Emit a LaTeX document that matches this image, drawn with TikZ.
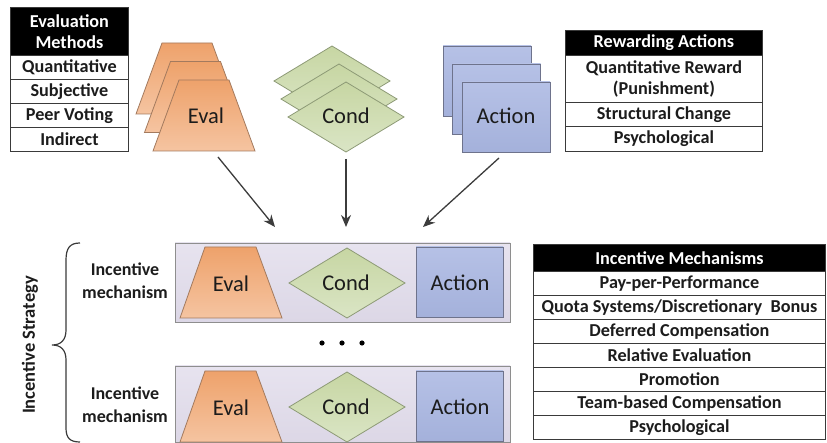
\documentclass[tikz,border=0pt]{standalone}
\usepackage{fontspec}
\setmainfont{Carlito}
\usetikzlibrary{arrows.meta}

\definecolor{tblline}{HTML}{3A3A3A}
\definecolor{evalTop}{HTML}{EEA26B}
\definecolor{evalBot}{HTML}{F5C4A1}
\definecolor{evalLine}{HTML}{A37A5E}
\definecolor{condTop}{HTML}{C7D6A3}
\definecolor{condBot}{HTML}{DAE5C5}
\definecolor{condLine}{HTML}{8D9A76}
\definecolor{actTop}{HTML}{B6C1E6}
\definecolor{actBot}{HTML}{A4B1DB}
\definecolor{actLine}{HTML}{6E738C}
\definecolor{mechTop}{HTML}{E7E3EF}
\definecolor{mechBot}{HTML}{DCD7E6}
\definecolor{mechLine}{HTML}{8E8E8E}
\definecolor{arrowCol}{HTML}{3C3C3C}
\definecolor{txt}{HTML}{1C1C1C}

\newcommand{\tblfont}{\bfseries\fontsize{18.2}{21.5}\selectfont}
\newcommand{\shapefont}{\fontsize{22.5}{26}\selectfont}
\newcommand{\lblfont}{\bfseries\fontsize{18}{23}\selectfont}

\begin{document}
\begin{tikzpicture}[x=1pt,y=-1pt,
  hdr/.style={draw=tblline, line width=0.9pt, fill=black, text=white, font=\tblfont,
    inner sep=0pt, align=center, anchor=north west},
  cell/.style={draw=tblline, line width=0.9pt, fill=white, text=txt, font=\tblfont,
    inner sep=0pt, align=center, anchor=north west},
  evalshape/.style={draw=evalLine, line width=0.8pt, top color=evalTop, bottom color=evalBot},
  condshape/.style={draw=condLine, line width=0.8pt, top color=condTop, bottom color=condBot},
  actshape/.style={draw=actLine, line width=0.8pt, top color=actTop, bottom color=actBot},
  mechbox/.style={draw=mechLine, line width=0.9pt, top color=mechTop, bottom color=mechBot},
  shapetext/.style={font=\shapefont, text=txt, inner sep=0pt},
  mechlabel/.style={font=\lblfont, text=txt, align=center, inner sep=0pt},
  arr/.style={draw=arrowCol, line width=1.3pt, -{Stealth[length=12pt,width=10pt]}}]

\useasboundingbox (0,0) rectangle (827,443);

% ---------- Evaluation methods table ----------
\node[hdr, minimum width=118pt, minimum height=48pt] (emH) at (10,7) {Evaluation\\Methods};
\node[cell, minimum width=118pt, minimum height=24pt] (em1) at (10,55) {Quantitative};
\node[cell, minimum width=118pt, minimum height=24pt] (em2) at (10,79) {Subjective};
\node[cell, minimum width=118pt, minimum height=24pt] (em3) at (10,103) {Peer Voting};
\node[cell, minimum width=118pt, minimum height=24pt] (em4) at (10,127) {Indirect};

% ---------- Rewarding actions table ----------
\node[hdr, minimum width=197pt, minimum height=25pt] (raH) at (565,30) {Rewarding Actions};
\node[cell, minimum width=197pt, minimum height=47pt] (ra1) at (565,55) {Quantitative Reward\\(Punishment)};
\node[cell, minimum width=197pt, minimum height=24pt] (ra2) at (565,102) {Structural Change};
\node[cell, minimum width=197pt, minimum height=25pt] (ra3) at (565,126) {Psychological};

% ---------- Incentive mechanisms table ----------
\node[hdr, minimum width=292pt, minimum height=27pt] (imH) at (533,244) {Incentive Mechanisms};
\node[cell, minimum width=292pt, minimum height=24pt] (im1) at (533,271) {Pay-per-Performance};
\node[cell, minimum width=292pt, minimum height=24pt] (im2) at (533,295) {Quota Systems/Discretionary~ Bonus};
\node[cell, minimum width=292pt, minimum height=24pt] (im3) at (533,319) {Deferred Compensation};
\node[cell, minimum width=292pt, minimum height=24pt] (im4) at (533,343) {Relative Evaluation};
\node[cell, minimum width=292pt, minimum height=24pt] (im5) at (533,367) {Promotion};
\node[cell, minimum width=292pt, minimum height=24pt] (im6) at (533,391) {Team-based Compensation};
\node[cell, minimum width=292pt, minimum height=24pt] (im7) at (533,415) {Psychological};

% ---------- stacked Eval trapezoids ----------
\foreach \dx/\dy in {0/0, 8.5/18.5, 17/37} {
  \path[evalshape] (162+\dx,43+\dy) -- (212+\dx,43+\dy) -- (238+\dx,114+\dy)
    -- (136+\dx,114+\dy) -- cycle;
}
\node[shapetext] (evalTop) at (206,116) {Eval};

% ---------- stacked Cond diamonds ----------
\foreach \cx/\cy in {332/81, 339/99, 346/117} {
  \path[condshape] (\cx-58,\cy) -- (\cx,\cy-35) -- (\cx+58,\cy) -- (\cx,\cy+35) -- cycle;
}
\node[shapetext] (condTop) at (346,116) {Cond};

% ---------- stacked Action rectangles ----------
\foreach \dx/\dy in {0/0, 9.5/18, 19/36} {
  \path[actshape] (443+\dx,46+\dy) rectangle (531+\dx,116+\dy);
}
\node[shapetext] (actTop) at (506,116) {Action};

% ---------- incentive mechanism boxes ----------
\path[mechbox] (175,243) rectangle (510,322);
\path[mechbox] (175,366) rectangle (510,442.5);

\foreach \sy/\nm in {0/A, 124/B} {
  \path[evalshape] (205,247+\sy) -- (256,247+\sy) -- (282,318+\sy) -- (180,318+\sy) -- cycle;
  \path[condshape] (289,283+\sy) -- (347,248+\sy) -- (405,283+\sy) -- (347,318+\sy) -- cycle;
  \path[actshape] (416,247+\sy) rectangle (503,317+\sy);
  \node[shapetext] (eval\nm) at (231,284+\sy) {Eval};
  \node[shapetext] (cond\nm) at (346,283+\sy) {Cond};
  \node[shapetext] (act\nm) at (460,283+\sy) {Action};
  \node[mechlabel] (mech\nm) at (125,281+\sy) {Incentive\\mechanism};
}

% ellipsis between the two mechanisms
\foreach \px in {322,342,362} { \fill[black] (\px,343) circle (2.6); }

% ---------- brace and strategy label ----------
\draw[line width=1.2pt, draw=tblline]
  (80,243) .. controls (70,243) and (66,248) .. (66,260) -- (66,330)
  .. controls (66,340) and (61,345) .. (52,345)
  .. controls (61,345) and (66,350) .. (66,360) -- (66,428)
  .. controls (66,438) and (70,442) .. (80,442);
\node[font=\bfseries\fontsize{18.5}{22}\selectfont, text=txt, rotate=90] (strategy) at (30,345) {Incentive Strategy};

% ---------- arrows into the mechanism ----------
\coordinate (evalOut) at (218,157);
\coordinate (condOut) at (346,159);
\coordinate (actOut) at (499,158);
\coordinate (evalIn) at (275,227);
\coordinate (condIn) at (346,227);
\coordinate (actIn) at (423,227);
\draw[arr] (evalOut) -- (evalIn);
\draw[arr] (condOut) -- (condIn);
\draw[arr] (actOut) -- (actIn);
\end{tikzpicture}
\end{document}
